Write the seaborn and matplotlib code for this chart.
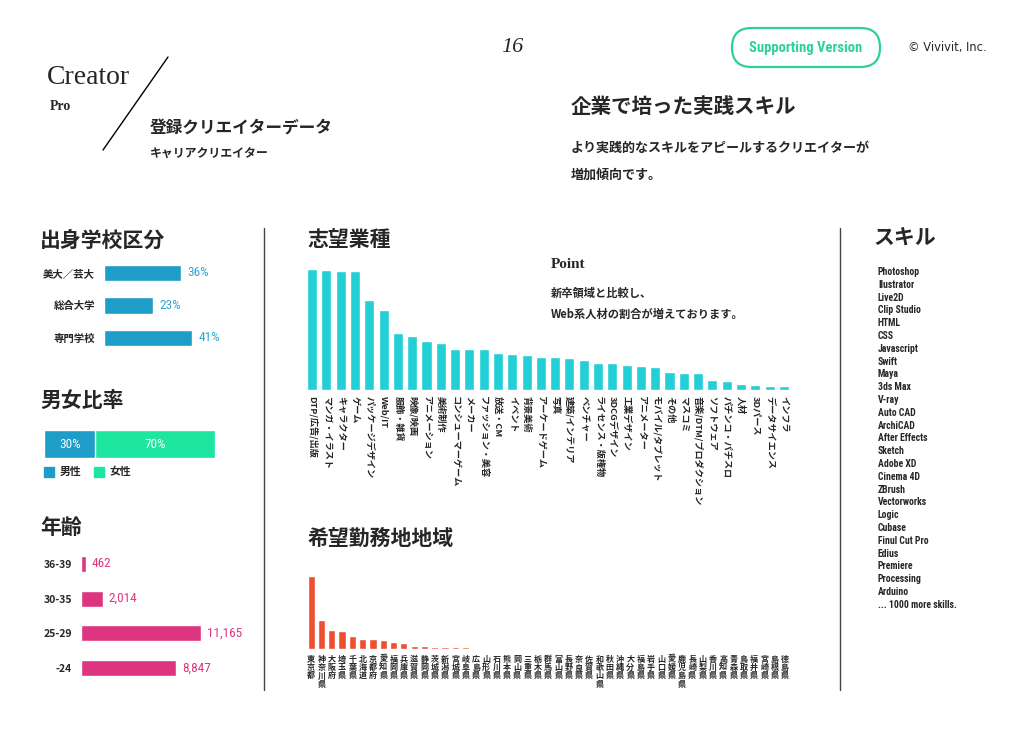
import matplotlib
matplotlib.use('Agg')
import matplotlib.pyplot as plt
import seaborn as sns
import pandas as pd
from matplotlib import font_manager
from matplotlib.patches import FancyBboxPatch, Rectangle

# 出身学校区分
school_labels = ['美大／芸大', '総合大学', '専門学校']
school_pct = [36, 23, 41]

# 男女比率
gender_labels = ['男性', '女性']
gender_pct = [30, 70]

# 年齢
age_labels = ['36-39', '30-35', '25-29', '-24']
age_counts = [462, 2014, 11165, 8847]

# 志望業種 (相対値)
job_labels = ['DTP/広告/出版', 'マンガ・イラスト', 'キャラクター', 'ゲーム', 'パッケージデザイン',
              'Web/IT', '服飾・雑貨', '映像/映画', 'アニメーション', '美術制作', 'コンシューマーゲーム',
              'メーカー', 'ファッション・美容', '放送・CM', 'イベント', '背景美術', 'アーケードゲーム',
              '写真', '建築/インテリア', 'ベンチャー', 'ライセンス・版権物', '3DCGデザイン', '工業デザイン',
              'アニメーター', 'モバイル/タブレット', 'その他', 'マスコミ', '音楽/DTM/プロダクション',
              'ソフトウェア', 'パチンコ・パチスロ', '人材', '3Dパース', 'データサイエンス', 'インフラ']
job_values = [120.7, 119.7, 119, 119, 89.7, 80, 57.3, 54.3, 48.7, 47.3, 40.7, 40.7, 40.7, 36.7,
              36.3, 35, 33, 33, 32.3, 29.7, 27, 27, 24.7, 23.7, 23, 18, 17, 16.7, 10, 9, 6, 5, 3.7, 3.7]

# 希望勤務地地域 (相対値)
pref_labels = ['東京都', '神奈川県', '大阪府', '埼玉県', '千葉県', '北海道', '京都府', '愛知県', '福岡県',
               '兵庫県', '滋賀県', '静岡県', '茨城県', '新潟県', '宮城県', '岐阜県', '広島県', '山形県',
               '石川県', '熊本県', '岡山県', '三重県', '栃木県', '群馬県', '富山県', '長野県', '奈良県',
               '佐賀県', '和歌山県', '秋田県', '沖縄県', '大分県', '福島県', '岩手県', '山口県', '愛媛県',
               '鹿児島県', '長崎県', '山梨県', '香川県', '高知県', '青森県', '鳥取県', '福井県', '宮崎県',
               '島根県', '徳島県']
pref_values = [72.7, 28.7, 19, 17.7, 12.7, 10.3, 10, 9, 7.3, 6, 3.3, 3, 2.3, 1.7, 1.7, 1.7, 1.2, 1.1,
               1.1, 1, 1, 1, 1, 1, 0.9, 0.9, 0.8, 0.8, 0.8, 0, 0, 0, 0, 0, 0, 0, 0, 0, 0, 0, 0, 0, 0,
               0, 0, 0, 0]

skills = ['Photoshop', 'Ilustrator', 'Live2D', 'Clip Studio', 'HTML', 'CSS', 'Javascript', 'Swift',
          'Maya', '3ds Max', 'V-ray', 'Auto CAD', 'ArchiCAD', 'After Effects', 'Sketch', 'Adobe XD',
          'Cinema 4D', 'ZBrush', 'Vectorworks', 'Logic', 'Cubase', 'Finul Cut Pro', 'Edius', 'Premiere',
          'Processing', 'Arduino', '... 1000 more skills.']

cyan = '#22CFD7'
orange = '#EE4F30'
blue = '#1E9DC8'
green = '#1DE6A0'
pink = '#DE3580'
btn_green = '#2DD196'

sns.set_style('white')
JP = ['Noto Sans CJK JP', 'DejaVu Sans']
plt.rcParams['font.family'] = JP

names = {f.name for f in font_manager.fontManager.ttflist}
COND = next((n for n in ['Liberation Sans Narrow', 'Roboto Condensed', 'DejaVu Sans'] if n in names),
            'DejaVu Sans')
SERIF = 'Liberation Serif' if 'Liberation Serif' in names else 'DejaVu Serif'

W, H = 1024, 731
fig = plt.figure(figsize=(W / 100, H / 100), dpi=100)

# page overlay in pixel coordinates
pg = fig.add_axes([0, 0, 1, 1])
pg.set_xlim(0, W)
pg.set_ylim(H, 0)
pg.axis('off')


def px_axes(l, t, r, b):
    a = fig.add_axes([l / W, 1 - b / H, (r - l) / W, (b - t) / H])
    a.set_facecolor('none')
    return a


def clean(a):
    sns.despine(ax=a, left=True, bottom=True)
    a.set_xlabel('')
    a.set_ylabel('')


# ---- header ----
pg.text(47, 78, 'Creator', family=SERIF, fontsize=20, va='center', ha='left')
pg.text(50, 106, 'Pro', family=SERIF, fontsize=10, fontweight='bold', va='center', ha='left')
pg.plot([168, 103], [57, 150], color='black', lw=1)
pg.text(150, 129, '登録クリエイターデータ', fontsize=12, fontweight='bold', va='center')
pg.text(150, 154, 'キャリアクリエイター', fontsize=8.6, fontweight='bold', va='center')
pg.text(512, 47, '16', family=SERIF, style='italic', fontsize=16, ha='center', va='center')
pg.add_patch(FancyBboxPatch((732, 28), 148, 39, boxstyle='round,pad=0,rounding_size=19.5',
                            fill=False, ec=btn_green, lw=1.6))
pg.text(806, 48, 'Supporting Version', family=COND, fontsize=10.5, fontweight='bold',
        color=btn_green, ha='center', va='center')
pg.text(908, 47, '© Vivivit, Inc.', family='DejaVu Sans', fontsize=8.3, va='center')
pg.text(571, 106, '企業で培った実践スキル', fontsize=14.8, fontweight='bold', va='center')
pg.text(571, 148, 'より実践的なスキルをアピールするクリエイターが', fontsize=9.4, fontweight='bold', va='center')
pg.text(571, 175, '増加傾向です。', fontsize=9.4, fontweight='bold', va='center')

# separators
for xs in (264, 840):
    pg.plot([xs, xs], [228, 690], color='#444444', lw=1)

# section titles
pg.text(40, 240, '出身学校区分', fontsize=15, fontweight='bold', va='center')
pg.text(308, 240, '志望業種', fontsize=15, fontweight='bold', va='center')
pg.text(873, 238, 'スキル', fontsize=15, fontweight='bold', va='center')
pg.text(40, 400, '男女比率', fontsize=15, fontweight='bold', va='center')
pg.text(40, 527, '年齢', fontsize=15, fontweight='bold', va='center')
pg.text(308, 538, '希望勤務地地域', fontsize=15, fontweight='bold', va='center')

# point note
pg.text(551, 265, 'Point', family=SERIF, fontsize=11, fontweight='bold', va='center')
pg.text(551, 293, '新卒領域と比較し、', fontsize=8.1, fontweight='bold', va='center')
pg.text(551, 314, 'Web系人材の割合が増えております。', fontsize=8.1, fontweight='bold', va='center')

# skills list
for i, s in enumerate(skills):
    pg.text(878, 272 + i * 12.8, s, family=COND, fontsize=7, fontweight='bold', va='center')

# ---- 出身学校区分 ----
ax = px_axes(104, 256.75, 214, 354.25)
sns.barplot(x=school_pct, y=school_labels, orient='h', color=blue, width=0.5, saturation=1, ax=ax)
ax.set_xlim(0, 110 / 2.14)
ax.set_ylim(2.5, -0.5)
ax.set_xticks([])
ax.tick_params(axis='y', length=0, pad=6.5, labelsize=7.5)
for lab in ax.get_yticklabels():
    lab.set_fontweight('bold')
for i, v in enumerate(school_pct):
    ax.text(v + 3, i, f'{v}%', family=COND, fontsize=9.5, color='#2FA6D2', va='center')
clean(ax)

# ---- 男女比率 ----
ax = px_axes(44, 430, 215, 458)
sns.barplot(x=[sum(gender_pct)], y=['比率'], orient='h', color=green, width=1, saturation=1, ax=ax)
sns.barplot(x=[gender_pct[0]], y=['比率'], orient='h', color=blue, width=1, saturation=1, ax=ax)
ax.set_xlim(0, 100)
ax.set_ylim(0.5, -0.5)
ax.set_xticks([])
ax.set_yticks([])
ax.text(gender_pct[0] / 2, 0, f'{gender_pct[0]}%', family=COND, fontsize=9.5, color='white',
        ha='center', va='center')
ax.text(gender_pct[0] + gender_pct[1] / 2, 0, f'{gender_pct[1]}%', family=COND, fontsize=9.5,
        color='white', ha='center', va='center')
clean(ax)
pg.add_patch(Rectangle((44, 467), 10, 10, color=blue))
pg.text(60, 472, gender_labels[0], fontsize=7.8, fontweight='bold', va='center')
pg.add_patch(Rectangle((94, 467), 10, 10, color=green))
pg.text(110, 472, gender_labels[1], fontsize=7.8, fontweight='bold', va='center')

# ---- 年齢 ----
ax = px_axes(81, 546.65, 230, 685.35)
sns.barplot(x=age_counts, y=age_labels, orient='h', color=pink, width=0.46, saturation=1, ax=ax)
ax.set_xlim(0, 11165 * 149 / 120)
ax.set_ylim(3.5, -0.5)
ax.set_xticks([])
ax.tick_params(axis='y', length=0, pad=6.5, labelsize=7.5)
for lab in ax.get_yticklabels():
    lab.set_fontweight('bold')
for i, v in enumerate(age_counts):
    ax.text(v + 560, i, f'{v:,}', family=COND, fontsize=9.5, color=pink, va='center')
clean(ax)

# ---- 志望業種 ----
ax = px_axes(305, 270, 791, 390)
df_job = pd.DataFrame({'job': job_labels, 'v': job_values})
sns.barplot(data=df_job, x='job', y='v', color=cyan, width=0.7, saturation=1, ax=ax)
ax.set_ylim(0, 120)
ax.set_xlim(-0.5, len(job_labels) - 0.5)
ax.set_yticks([])
ax.set_xticks(range(len(job_labels)))
ax.set_xticklabels(job_labels, rotation=270, fontsize=6.6, fontweight='bold')
ax.tick_params(axis='x', length=0, pad=4)
clean(ax)

# ---- 希望勤務地地域 ----
ax = px_axes(306, 576, 790, 649)
df_pref = pd.DataFrame({'pref': pref_labels, 'v': pref_values})
sns.barplot(data=df_pref, x='pref', y='v', color=orange, width=0.7, saturation=1, ax=ax)
ax.set_ylim(0, 73)
ax.set_xlim(-0.5, len(pref_labels) - 0.5)
ax.set_yticks([])
ax.set_xticks(range(len(pref_labels)))
ax.set_xticklabels(['\n'.join(p) for p in pref_labels], fontsize=5.8, fontweight='bold',
                   linespacing=0.92)
ax.tick_params(axis='x', length=0, pad=4)
clean(ax)

fig.savefig('out.png', dpi=100)
